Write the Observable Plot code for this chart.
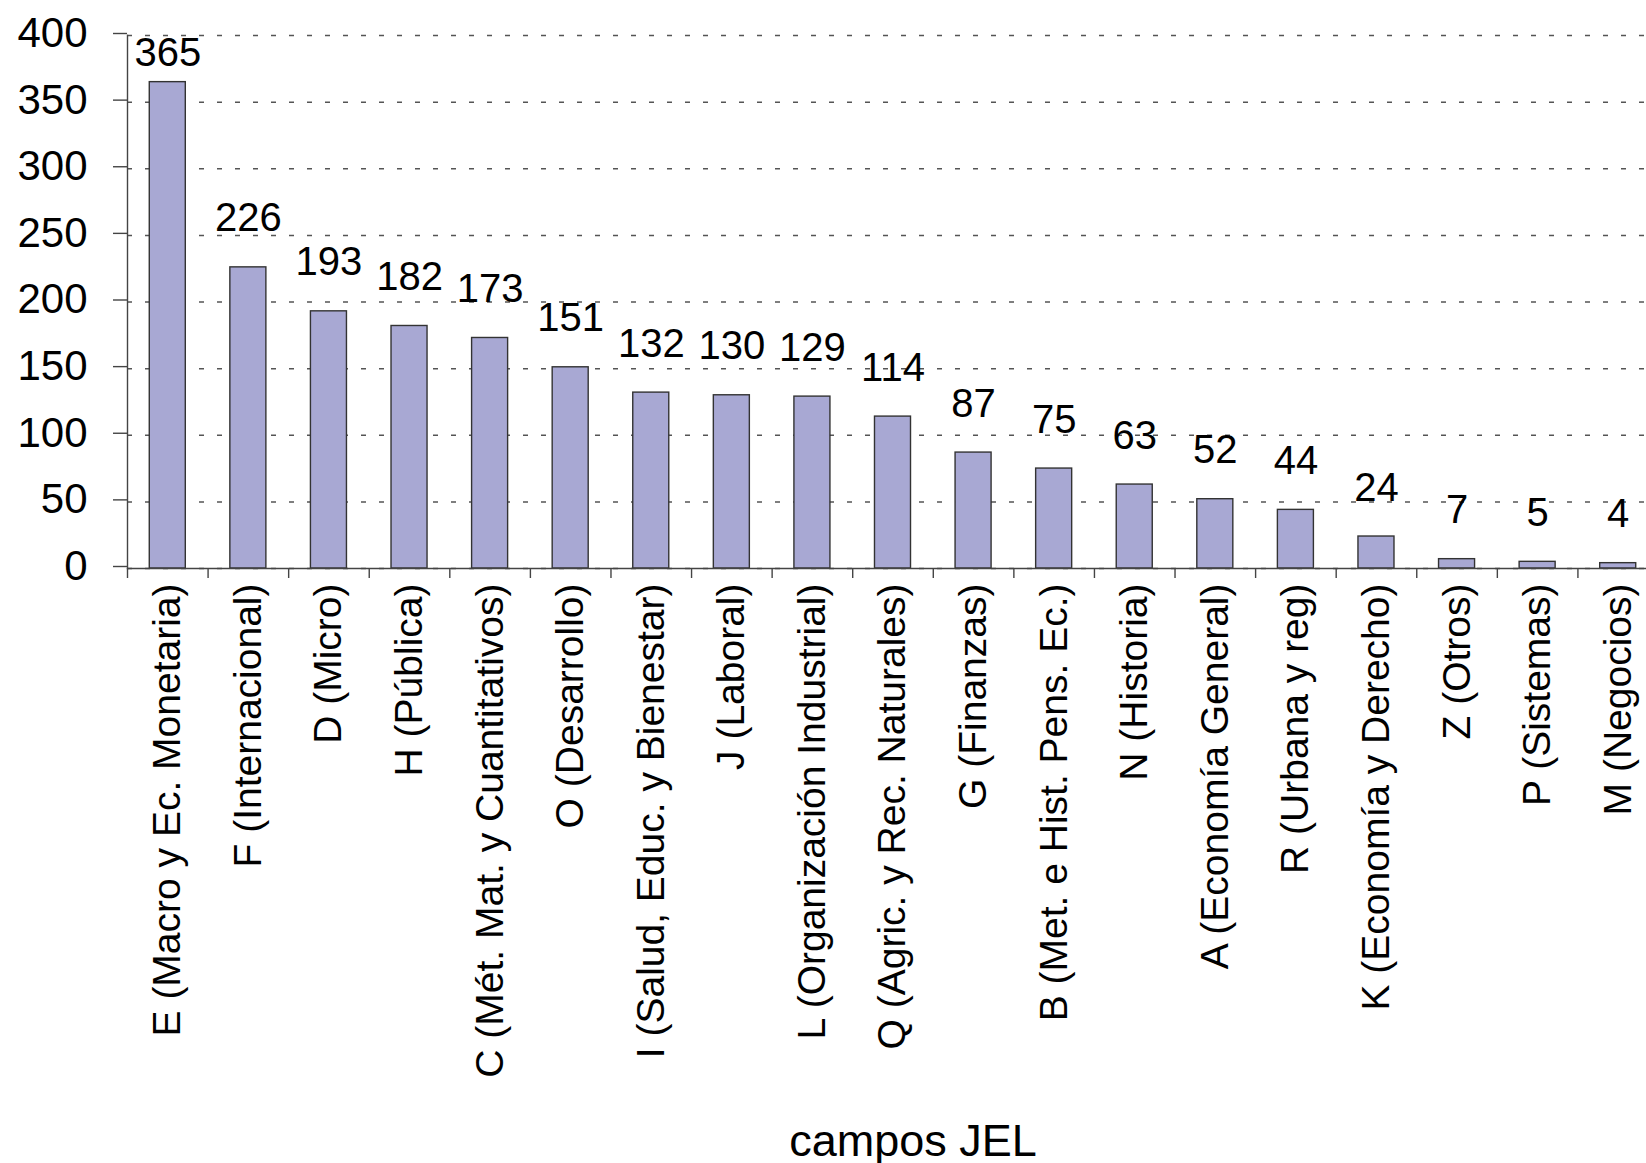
<!DOCTYPE html>
<html>
<head>
<meta charset="utf-8">
<script src="https://cdn.jsdelivr.net/npm/d3@7"></script>
<script src="https://cdn.jsdelivr.net/npm/@observablehq/plot@0.6"></script>
<style>
  html, body { margin: 0; padding: 0; background: #fff; overflow: hidden; }
  #chart svg { display: block; font-family: "Liberation Sans", Arial, sans-serif; }
</style>
</head>
<body>
<div id="chart"></div>
<script>
const fields = [
  "E (Macro y Ec. Monetaria)",
  "F (Internacional)",
  "D (Micro)",
  "H (Pública)",
  "C (Mét. Mat. y Cuantitativos)",
  "O (Desarrollo)",
  "I (Salud, Educ. y Bienestar)",
  "J (Laboral)",
  "L (Organización Industrial)",
  "Q (Agric. y Rec. Naturales)",
  "G (Finanzas)",
  "B (Met. e Hist. Pens. Ec.)",
  "N (Historia)",
  "A (Economía General)",
  "R (Urbana y reg)",
  "K (Economía y Derecho)",
  "Z (Otros)",
  "P (Sistemas)",
  "M (Negocios)"
];
const counts = [365, 226, 193, 182, 173, 151, 132, 130, 129, 114, 87, 75, 63, 52, 44, 24, 7, 5, 4];
const yTicks = [0, 50, 100, 150, 200, 250, 300, 350, 400];
const xTitle = "campos JEL";

const data = fields.map((f, i) => ({field: f, value: counts[i]}));

const W = 1646, H = 1163;
const mL = 127, mR = -12, mT = 35, mB = 595;
const step = (W - mR - mL) / fields.length;

const chart = Plot.plot({
  width: W,
  height: H,
  marginLeft: mL,
  marginRight: mR,
  marginTop: mT,
  marginBottom: mB,
  style: {fontFamily: '"Liberation Sans", Arial, sans-serif', color: "#000", background: "#fff", overflow: "visible"},
  x: {domain: fields, paddingInner: 0.553, paddingOuter: 0.2765, align: 0.5, round: false},
  y: {domain: [0, 400]},
  marks: [
    Plot.gridY(yTicks, {stroke: "#555", strokeOpacity: 1, strokeWidth: 1.5, strokeDasharray: "5,13"}),
    Plot.barY(data, {x: "field", y: "value", fill: "#a8a8d3", stroke: "#333", strokeWidth: 1.4}),
    Plot.ruleY([0], {stroke: "#444", strokeWidth: 1.4}),
    Plot.frame({anchor: "left", stroke: "#444", strokeWidth: 1.4}),
    Plot.ruleX(fields, {x: d => d, dx: -step / 2, y1: 0, y2: 0, insetBottom: -10, stroke: "#444", strokeWidth: 1.4}),
    Plot.axisY({ticks: yTicks, tickSize: 14, tickPadding: 26, fontSize: 42, stroke: "#444", strokeWidth: 1.4, fill: "#000", label: null, dy: -2}),
    Plot.axisX({tickSize: 0, tickPadding: 15, tickRotate: -90, fontSize: 39, fill: "#000", label: null}),
    Plot.text(data, {x: "field", y: d => Math.min(d.value, 350), text: d => String(d.value), lineAnchor: "bottom", dy: -36, fontSize: 40, fill: "#000"}),
    Plot.text([xTitle], {frameAnchor: "bottom", lineAnchor: "bottom", dy: 587, dx: 20, fontSize: 45, fill: "#000"})
  ]
});
document.getElementById("chart").appendChild(chart);
</script>
</body>
</html>
